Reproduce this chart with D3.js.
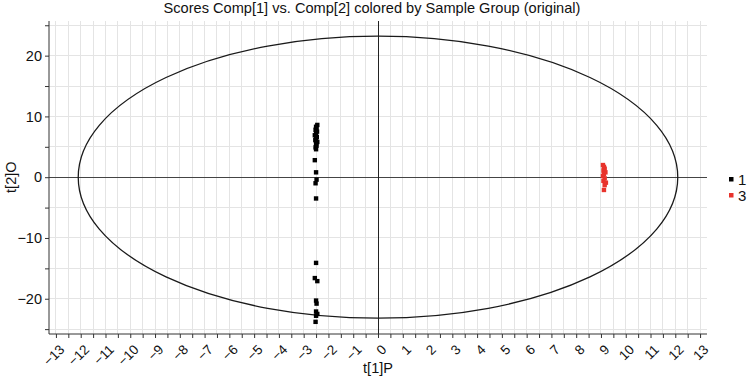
<!DOCTYPE html>
<html><head><meta charset="utf-8">
<script src="https://cdn.jsdelivr.net/npm/d3@7"></script>
<style>body{margin:0;background:#fff}svg{display:block;font-family:"Liberation Sans",Arial,sans-serif}</style>
</head><body>
<svg id="c" width="750" height="378"></svg>
<script>
const title = "Scores Comp[1] vs. Comp[2] colored by Sample Group (original)";
const xLabel = "t[1]P";
const yLabel = "t[2]O";
const groups = ["1", "3"];
const groupColors = ["#000000", "#e8332c"];
const g1x = [-2.45,-2.5,-2.48,-2.52,-2.46,-2.5,-2.55,-2.47,-2.5,-2.53,-2.45,-2.5,-2.48,-2.52,-2.5,-2.55,-2.5,-2.48,-2.52,-2.5,-2.5,-2.55,-2.45,-2.5,-2.48,-2.5,-2.45,-2.5,-2.52];
const g1y = [8.6,8.3,8.0,7.8,7.5,7.2,6.9,6.6,6.4,6.1,5.8,5.5,5.2,4.9,4.6,2.8,0.8,-0.4,-1.0,-3.5,-14.1,-16.6,-17.1,-20.3,-20.8,-22.1,-22.5,-22.8,-23.8];
const g3x = [9.08,9.12,9.15,9.1,9.18,9.12,9.08,9.15,9.1,9.2,9.15,9.12];
const g3y = [2.0,1.7,1.4,1.1,0.8,0.5,0.2,-0.2,-0.6,-0.9,-1.3,-2.1];
const xTicks = d3.range(-13, 14);
const yTicks = [-20, -10, 0, 10, 20];
const ellipseR = [12.1, 23.2];

const svg = d3.select("#c");
const x = d3.scaleLinear().domain([-13.28, 13.28]).range([49, 707]);
const y = d3.scaleLinear().domain([-25.8, 25.7]).range([334, 21]);

// grid
const gridX = d3.range(-13, 13.01, 0.5);
const gridY = d3.range(-25, 25.01, 5);
svg.append("g").selectAll("line").data(gridX).join("line")
  .attr("x1", d => x(d)).attr("x2", d => x(d)).attr("y1", y.range()[1]).attr("y2", y.range()[0])
  .attr("stroke", "#e4e4e4").attr("stroke-width", 1).attr("shape-rendering","crispEdges");
svg.append("g").selectAll("line").data(gridY).join("line")
  .attr("y1", d => y(d)).attr("y2", d => y(d)).attr("x1", x.range()[0]).attr("x2", x.range()[1])
  .attr("stroke", "#e4e4e4").attr("stroke-width", 1).attr("shape-rendering","crispEdges");

// zero lines
svg.append("line").attr("x1", x.range()[0]).attr("x2", x.range()[1]).attr("y1", y(0)).attr("y2", y(0))
  .attr("stroke", "#444").attr("shape-rendering","crispEdges");
svg.append("line").attr("x1", x(0)).attr("x2", x(0)).attr("y1", y.range()[1]).attr("y2", y.range()[0])
  .attr("stroke", "#222").attr("shape-rendering","crispEdges");

// ellipse
svg.append("ellipse").attr("cx", x(0)).attr("cy", y(0))
  .attr("rx", x(ellipseR[0]) - x(0)).attr("ry", y(0) - y(ellipseR[1]))
  .attr("fill", "none").attr("stroke", "#1a1a1a").attr("stroke-width", 1.3);

// axes
const yAxis = svg.append("g").attr("transform", `translate(${x.range()[0]},0)`)
  .call(d3.axisLeft(y).tickValues(d3.range(-25, 25.01, 5)).tickSize(4).tickPadding(3)
    .tickFormat(d => yTicks.includes(d) ? d3.format("")(d) : ""));
yAxis.select(".domain").attr("stroke", "#333").attr("d", `M0,${y.range()[1]}V${y.range()[0]}`);
yAxis.selectAll(".tick line").attr("stroke", "#333");
yAxis.selectAll("text").attr("font-size", 14.5).attr("fill", "#111").attr("font-family", "Liberation Sans, Arial");

const xAxis = svg.append("g").attr("transform", `translate(0,${y.range()[0]})`)
  .call(d3.axisBottom(x).tickValues(gridX).tickSize(4).tickFormat(""));
xAxis.select(".domain").attr("stroke", "#333").attr("d", `M${x.range()[0]},0H${x.range()[1]}`);
xAxis.selectAll(".tick line").attr("stroke", "#333");
svg.append("g").selectAll("text").data(xTicks).join("text")
  .attr("transform", d => `translate(${x(d) + 6},${y.range()[0] + 13}) rotate(-45)`)
  .attr("text-anchor", "end").attr("dy", "0.35em")
  .attr("font-size", 13.5).attr("fill", "#111").text(d => d3.format("")(d));

// points
const pts = [];
g1x.forEach((v, i) => pts.push({x: v, y: g1y[i], g: 0}));
g3x.forEach((v, i) => pts.push({x: v, y: g3y[i], g: 1}));
const s = 4.4;
svg.append("g").selectAll("rect").data(pts).join("rect")
  .attr("x", d => x(d.x) - s/2).attr("y", d => y(d.y) - s/2).attr("width", s).attr("height", s)
  .attr("fill", d => groupColors[d.g]);

// title & labels
svg.append("text").attr("x", 372).attr("y", 12.5).attr("text-anchor", "middle")
  .attr("font-size", 14.6).attr("fill", "#111").text(title);
svg.append("text").attr("x", x(0)).attr("y", 373).attr("text-anchor", "middle")
  .attr("font-size", 14.5).attr("fill", "#111").text(xLabel);
svg.append("text").attr("transform", `translate(16,${y(0)}) rotate(-90)`).attr("text-anchor", "middle")
  .attr("font-size", 14.5).attr("fill", "#111").text(yLabel);

// legend
const leg = svg.append("g").selectAll("g").data(groups).join("g")
  .attr("transform", (d, i) => `translate(731,${179 + i * 16})`);
leg.append("rect").attr("x", -2).attr("y", -2).attr("width", 4.5).attr("height", 4.5)
  .attr("fill", (d, i) => groupColors[i]);
leg.append("text").attr("x", 7).attr("dy", "0.38em").attr("font-size", 15).attr("fill", "#111").text(d => d);
</script>
</body></html>
